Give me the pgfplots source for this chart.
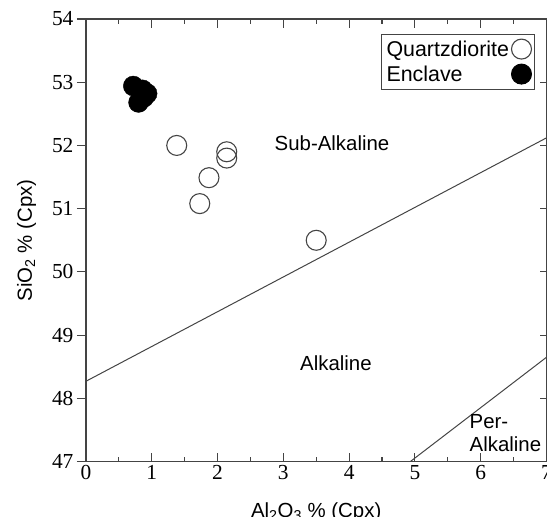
\documentclass[border=0pt]{standalone}
\usepackage{fontspec}
\setmainfont{Liberation Sans}
\newfontfamily\serifnum{Liberation Serif}
\usepackage{pgfplots}
\pgfplotsset{compat=1.18}
\definecolor{ink}{HTML}{444444}

\begin{document}
\begin{tikzpicture}
\begin{axis}[
    scale only axis,
    width=461bp, height=443bp,
    xmin=0, xmax=7, ymin=47, ymax=54,
    xtick={0,...,7}, ytick={47,...,54},
    minor x tick num=1,
    xtick align=inside, ytick align=outside,
    ytick pos=left,
    major tick length=9bp, minor tick length=5bp,
    axis line style={ink, line width=1.2bp},
    every tick/.style={ink, line width=1.1bp},
    /pgf/number format/assume math mode=true,
    tick label style={font=\serifnum\fontsize{21.5}{21.5}\selectfont},
    xlabel={Al\textsubscript{2}O\textsubscript{3} \% (Cpx)},
    ylabel={SiO\textsubscript{2} \% (Cpx)},
    label style={font=\fontsize{20.5}{20.5}\selectfont},
    xlabel style={yshift=-16bp},
    ylabel style={yshift=9bp},
    legend cell align=left,
    legend plot pos=right,
    legend style={at={(0.975,0.967)}, anchor=north east, draw=ink,
        line width=1bp, fill=white,
        font=\fontsize{21.5}{25}\selectfont, inner xsep=3bp, inner ysep=4bp,
        row sep=3bp, nodes={inner sep=2.5bp}},
    clip=false,
]
\coordinate (sw) at (rel axis cs:0,0);
\coordinate (ne) at (rel axis cs:1,1);

% boundary lines
\addplot[ink, line width=1bp, forget plot] coordinates {(0,48.27) (7,52.12)};
\addplot[ink, line width=1bp, forget plot] coordinates {(4.93,47) (7,48.65)};

% Quartzdiorite
\addplot[only marks, mark=o, mark size=10bp,
    mark options={draw=ink, line width=1.1bp, fill=white}]
coordinates {
(1.38,52.00) (1.87,51.49) (1.73,51.08) (2.14,51.90) (2.14,51.80) (3.50,50.50)
};
\addlegendentry{Quartzdiorite}

% Enclave
\addplot[only marks, mark=*, mark size=10bp,
    mark options={draw=black, fill=black}]
coordinates {
(0.72,52.94) (0.86,52.88) (0.93,52.82) (0.80,52.68) (0.88,52.76)
};
\addlegendentry{Enclave}

\node[font=\fontsize{20.5}{20.5}\selectfont] at (axis cs:3.74,52.03) {Sub-Alkaline};
\node[font=\fontsize{20.5}{20.5}\selectfont] at (axis cs:3.80,48.56) {Alkaline};
\node[font=\fontsize{20.5}{23}\selectfont, anchor=west, align=left, inner sep=0pt]
    at (axis cs:5.83,47.45) {Per-\\Alkaline};
\end{axis}

\begin{axis}[
    scale only axis,
    width=461bp, height=443bp,
    xmin=0, xmax=7, ymin=47, ymax=54,
    axis x line=none, axis y line*=right,
    ytick={47,...,54}, yticklabels={},
    ytick align=inside,
    major tick length=7bp,
    axis line style={ink, line width=1.2bp},
    every tick/.style={ink, line width=1.1bp},
]
\end{axis}

\pgfresetboundingbox
\path ([xshift=-86bp, yshift=-55bp]sw) rectangle ([xshift=0.5bp, yshift=19bp]ne);
\end{tikzpicture}
\end{document}
